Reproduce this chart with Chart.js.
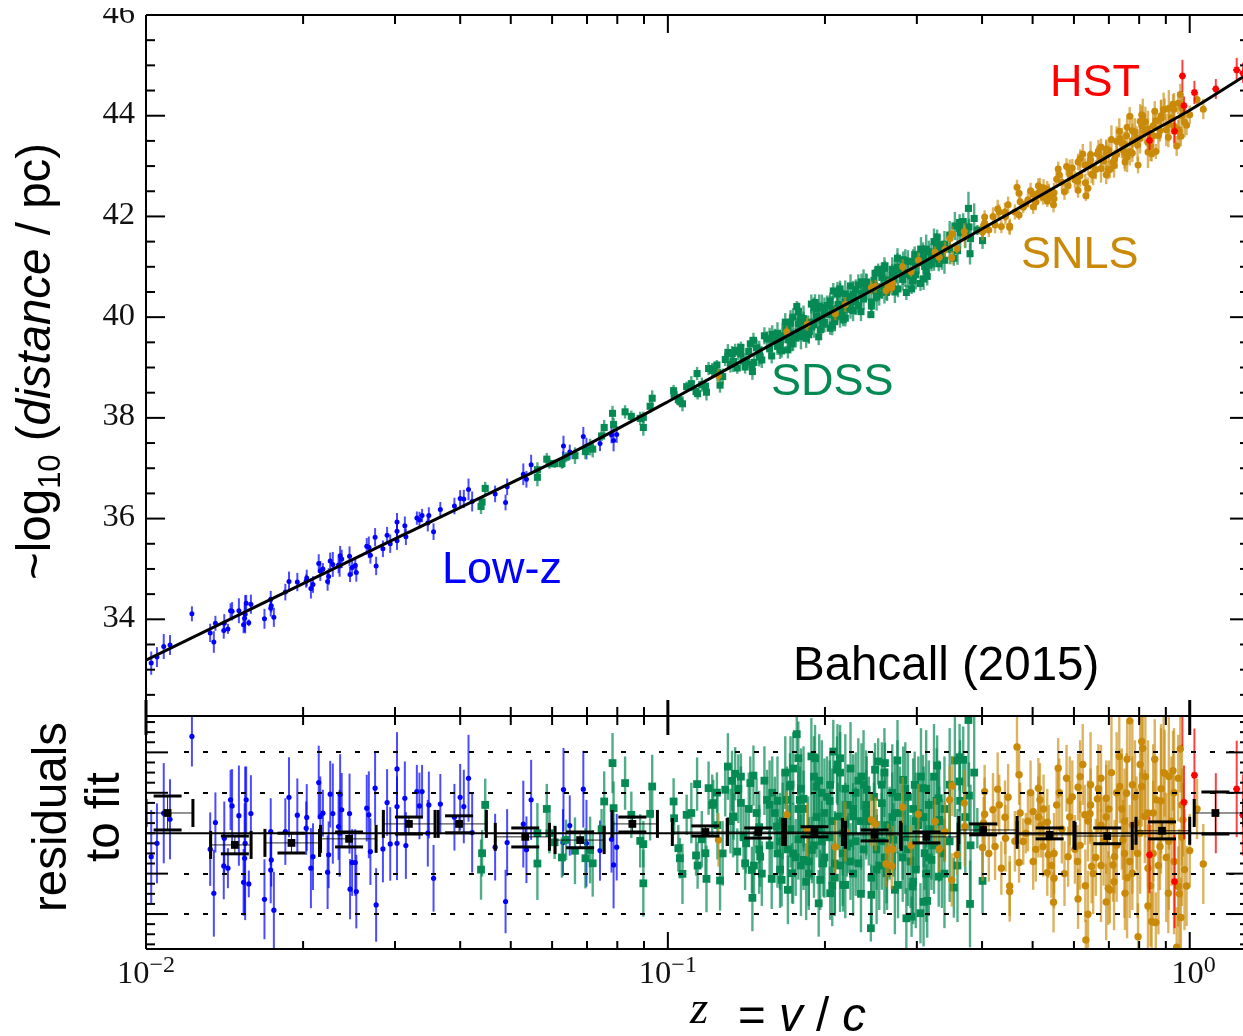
<!DOCTYPE html>
<html>
<head>
<meta charset="utf-8">
<title>Bahcall (2015) Hubble diagram</title>
<script src="https://cdn.jsdelivr.net/npm/chart.js@4"></script>
<style>
  body { margin: 0; background: #fff; overflow: hidden; }
  canvas { position: absolute; left: 0; }
  #top-chart { top: 8px; }
  #bottom-chart { top: 700px; }
</style>
</head>
<body>
<canvas id="top-chart" width="1243" height="709"></canvas>
<canvas id="bottom-chart" width="1243" height="336"></canvas>
<script>
// values. redshift kept as log10(z)
const lowLogZ = [-1.990,-1.979,-1.966,-1.954,-1.912,-1.877,-1.870,-1.867,-1.851,-1.850,-1.843,-1.838,-1.835,-1.822,-1.811,-1.813,-1.803,-1.810,-1.808,-1.799,-1.773,-1.760,-1.761,-1.755,-1.761,-1.733,-1.726,-1.710,-1.692,-1.693,-1.684,-1.680,-1.669,-1.666,-1.661,-1.650,-1.652,-1.647,-1.642,-1.631,-1.628,-1.629,-1.625,-1.610,-1.609,-1.605,-1.599,-1.597,-1.577,-1.573,-1.570,-1.561,-1.559,-1.546,-1.538,-1.532,-1.519,-1.519,-1.519,-1.504,-1.502,-1.481,-1.476,-1.471,-1.460,-1.458,-1.449,-1.436,-1.409,-1.398,-1.391,-1.382,-1.375,-1.331,-1.311,-1.308,-1.277,-1.271,-1.262,-1.200,-1.201,-1.188,-1.162,-1.156,-1.130,-1.108,-1.104,-1.098];
const lowDist = [33.13,33.25,33.46,33.49,34.11,33.73,33.55,33.92,33.78,33.92,33.81,34.17,34.16,34.17,34.02,33.89,33.93,34.10,34.32,34.30,34.01,34.27,34.22,34.04,34.40,34.54,34.75,34.74,34.82,34.76,34.61,34.69,35.11,34.96,35.00,34.85,34.75,35.16,35.09,35.08,35.26,35.06,35.20,35.25,34.89,35.03,35.07,34.93,35.45,35.43,35.27,35.63,35.06,35.40,35.67,35.50,35.93,35.75,35.56,35.86,35.64,36.01,35.97,36.06,35.91,36.06,35.74,36.18,36.25,36.40,36.39,36.58,36.34,36.49,36.32,36.63,36.88,36.78,37.07,37.44,37.17,37.32,37.63,37.39,37.49,37.66,37.55,37.67];
const lowRes = [-.116,-.050,.099,.069,.479,-.079,-.297,.053,-.162,-.025,-.173,.165,.135,.087,-.124,-.243,-.251,-.050,.165,.097,-.327,-.132,-.182,-.381,.008,.008,.178,.089,.078,.025,-.173,-.116,.251,.083,.099,-.107,-.193,.193,.097,.033,.193,0,.116,.097,-.277,-.145,-.145,-.289,.124,.091,-.091,.223,-.355,-.078,.152,-.053,.318,.132,-.050,.173,-.061,.206,.135,.206,0,.140,-.223,.144,.079,.178,.132,.272,.003,-.069,-.338,-.046,.045,-.082,.165,.216,-.046,.038,.218,-.050,-.086,-.030,-.157,-.069];
const lowErr = [.231,.198,.248,.198,.149,.182,.215,.149,.165,.182,.099,.149,.182,.248,.272,.165,.066,.380,.165,.190,.198,.132,.165,.190,.165,.165,.198,.182,.165,.132,.198,.165,.182,.198,.116,.165,.182,.165,.248,.165,.198,.215,.182,.198,.149,.165,.165,.182,.165,.215,.165,.182,.182,.165,.165,.182,.182,.149,.182,.182,.165,.132,.165,.132,.165,.165,.165,.149,.165,.165,.182,.215,.198,.165,.157,.165,.215,.165,.198,.206,.165,.149,.190,.215,.149,.165,.215,.165];

const sdssLogZ = [-1.350,-1.356,-1.358,-1.250,-1.250,-1.232,-1.227,-1.217,-1.203,-1.195,-1.178,-1.158,-1.149,-1.144,-1.127,-1.122,-1.106,-1.104,-1.082,-1.070,-1.053,-1.047,-1.047,-1.034,-1.030,-.989,-.988,-.980,-.977,-.972,-.964,-.944,-.946,-.943,-.928,-.926,-.922,-.913,-.906,-.900,-.890,-.885,-.877,-.871,-.860,-.874,-.867,-.852,-.839,-.838,-.842,-.836,-.823,-.810,-.801,-.791,-.782,-.772,-.766,-.762,-.753,-.750,-.747,-.740,-.731,-.724,-.718,-.715,-.711,-.708,-.702,-.689,-.689,-.683,-.676,-.670,-.660,-.674,-.657,-.664,-.654,-.645,-.635,-.629,-.619,-.611,-.610,-.603,-.597,-.584,-.590,-.581,-.568,-.559,-.549,-.543,-.533,-.531,-.527,-.516,-.511,-.503,-.508,-.495,-.484,-.481,-.481,-.480,-.441,-.434,-.441,-.423,-.452,-.421,-.424,-.397,-.407,-.86,-.85,-.83,-.82,-.80,-.79,-.78,-.77,-.76,-.75,-.74,-.73,-.72,-.71,-.70,-.69,-.68,-.67,-.66,-.65,-.64,-.63,-.62,-.60,-.59,-.58,-.57,-.56,-.55,-.54,-.53,-.52,-.51,-.50,-.49,-.47,
  -.955,-.935,-.915,-.905,-.895,-.88,-.865,-.855,-.845,-.835,-.825,-.815,-.805,-.795,-.785,-.775,-.765,-.755,-.745,-.735,-.725,-.715,-.705,-.695,-.685,-.675,-.665,-.655,-.645,-.635,-.625,-.615,-.605,-.595,-.585,-.575,-.565,-.555,-.545,-.535,-.525,-.515,-.505,-.495,-.485,-.475,-.46,-.445,-.43,-.413,-.79,-.77,-.75,-.73,-.71,-.69,-.67,-.65,-.63,-.61,-.59,-.57,-.55,-.53,-.51,-.49,-.47,-.45,-.42,
  -.78,-.76,-.74,-.72,-.70,-.68,-.66,-.64,-.62,-.60,-.58,-.56,-.54,-.52,-.50,-.48,-.46,-.44,-.875,-.825,-.805,-.785,-.765,-.745,-.725,-.705,-.685,-.665,-.645,-.625,-.605,-.585,-.565,-.545,-.525,-.505];
const sdssDist = [36.60,36.33,36.24,36.97,36.82,37.18,37.09,37.09,37.09,37.22,37.25,37.33,37.42,37.38,37.64,37.81,38.09,37.87,38.12,38.03,37.99,38.01,37.81,38.23,38.39,38.54,38.46,38.36,38.33,38.28,38.62,38.88,38.52,38.48,38.63,38.51,38.98,38.96,39.05,38.65,39.16,39.30,39.28,39.34,39.40,39.12,38.99,39.01,39.06,38.92,39.47,39.54,39.21,39.57,39.23,39.54,39.33,39.79,39.88,39.47,40.21,40.11,39.92,39.67,39.85,39.81,40.29,40.17,39.61,39.75,39.86,39.78,40.32,40.52,40.46,40.56,39.98,40.25,40.19,39.95,40.23,40.41,40.23,40.70,40.69,40.05,40.22,40.87,40.95,41.02,40.79,40.49,40.74,40.56,41.14,40.49,40.56,40.72,41.24,40.67,41.32,40.81,41.01,41.06,41.59,41.44,41.06,41.34,41.88,41.90,41.76,41.79,41.17,41.26,42.16,41.52,41.73,39.27,39.12,39.39,39.15,39.66,39.42,39.63,39.35,40.00,39.71,39.92,39.65,40.19,39.98,39.90,40.23,39.91,40.48,40.29,40.16,40.55,40.11,40.56,40.50,40.88,40.52,40.83,41.17,40.75,41.11,40.74,41.08,40.76,41.30,41.16,41.45,
  38.68,38.66,38.94,38.90,38.82,39.06,39.31,39.13,39.32,39.10,39.35,39.63,39.37,39.59,39.36,39.90,39.68,39.59,39.99,39.58,40.26,40.02,39.95,40.23,39.84,40.50,40.22,40.41,40.13,40.64,40.36,40.55,40.73,40.45,40.97,40.73,40.50,40.94,41.12,40.82,41.08,41.35,40.93,41.21,41.41,41.21,41.63,41.32,41.65,41.96,39.68,39.55,39.86,39.71,40.22,40.05,40.02,40.62,40.47,40.30,40.60,40.95,40.89,41.10,41.18,41.50,41.13,41.81,41.56,
  39.62,39.58,39.97,39.85,40.12,39.98,40.46,40.31,40.60,40.40,40.74,40.99,40.85,41.14,41.04,41.33,41.35,41.67,39.11,39.24,39.57,39.50,39.90,39.61,39.90,40.19,40.16,40.12,40.45,40.68,40.53,40.55,40.88,40.88,40.84,41.35];
const sdssRes = [.140,-.099,-.180,0,-.150,.120,0,-.045,-.120,-.033,-.087,-.124,-.083,-.149,.020,.157,.347,.124,.248,.091,-.038,-.054,-.248,.096,.231,.157,.074,-.074,-.124,-.201,.091,.243,-.110,-.160,-.099,-.226,.223,.149,.201,-.234,.215,.330,.259,.294,.280,.083,-.091,-.149,-.182,-.320,.248,.285,-.116,.165,-.226,.033,-.231,.165,.231,-.198,.490,.371,.165,-.132,0,-.083,.371,.231,-.347,-.231,-.149,-.297,.239,.404,.314,.371,-.256,.083,-.066,-.256,-.050,.083,-.149,.280,.215,-.470,-.305,.314,.355,.347,.149,-.198,-.033,-.256,.264,-.421,-.413,-.264,.239,-.396,.223,-.335,-.099,-.132,.335,.173,-.215,.066,.376,.363,.256,.186,-.269,-.350,.560,-.236,.025,.15,-.05,.10,-.20,.20,-.10,.06,-.28,.32,-.03,.12,-.20,.28,.02,-.12,.16,-.22,.30,.05,-.14,.20,-.30,.10,-.08,.24,-.18,.08,.36,-.12,.18,-.24,.04,-.34,.14,-.06,.12,
  .10,-.03,.14,.04,-.10,.06,.22,-.02,.12,-.16,.03,.26,-.06,.10,-.18,.30,.02,-.12,.22,-.24,.38,.08,-.04,.18,-.26,.34,0,.14,-.20,.26,-.08,.06,.18,-.16,.30,0,-.28,.10,.22,-.14,.06,.28,-.20,.02,.16,-.10,.24,-.16,.08,.30,.16,-.08,.12,-.14,.26,-.02,-.16,.32,.06,-.22,-.04,.20,.02,.12,.08,.28,-.20,.36,-.06,
  .05,-.10,.17,-.06,.10,-.15,.22,-.04,.14,-.18,.04,.18,-.08,.10,-.12,.06,-.04,.16,.08,-.08,.14,-.04,.24,-.16,.02,.20,.06,-.10,.12,.24,-.02,-.12,.10,-.02,-.18,.22];
const sdssErr = [.130,.115,.149,.149,.180,.124,.100,.083,.100,.100,.165,.149,.165,.165,.100,.149,.149,.132,.132,.115,.132,.115,.165,.132,.157,.115,.083,.115,.100,.149,.100,.132,.100,.115,.115,.165,.132,.115,.100,.149,.132,.165,.149,.132,.115,.115,.115,.132,.115,.165,.132,.149,.149,.149,.149,.149,.132,.165,.165,.149,.110,.182,.165,.149,.182,.165,.165,.165,.165,.149,.165,.132,.165,.157,.165,.165,.165,.165,.149,.132,.149,.165,.149,.165,.165,.066,.149,.132,.115,.100,.165,.149,.182,.165,.165,.149,.100,.149,.165,.149,.165,.182,.182,.149,.149,.149,.149,.165,.165,.165,.149,.165,.149,.215,.330,.165,.100,.18,.15,.17,.16,.18,.17,.19,.17,.18,.20,.19,.18,.20,.19,.20,.20,.18,.20,.20,.19,.20,.19,.21,.20,.21,.20,.22,.20,.22,.22,.21,.23,.22,.22,.24,.26,
  .15,.14,.15,.17,.16,.16,.17,.16,.18,.17,.18,.17,.18,.18,.19,.18,.19,.19,.20,.19,.19,.20,.20,.20,.20,.20,.21,.20,.21,.21,.21,.22,.22,.22,.22,.23,.22,.23,.23,.23,.24,.24,.24,.25,.26,.27,.28,.28,.28,.30,.22,.22,.23,.22,.23,.23,.23,.23,.24,.23,.24,.24,.25,.25,.25,.26,.27,.28,.30,
  .26,.25,.26,.26,.27,.26,.27,.27,.27,.27,.28,.28,.28,.28,.29,.30,.30,.30,.20,.22,.22,.24,.24,.25,.25,.26,.26,.26,.27,.27,.27,.28,.28,.28,.29,.29];

const snlsLogZ = [-.903,-.772,-.733,-.679,-.660,-.610,-.602,-.578,-.569,-.582,-.571,-.550,-.520,-.534,-.488,-.480,-.469,-.460,-.455,-.456,-.446,-.432,-.431,-.393,-.393,-.397,-.368,-.377,-.373,-.361,-.353,-.354,-.348,-.345,-.345,-.331,-.327,-.327,-.319,-.314,-.300,-.290,-.287,-.281,-.273,-.271,-.273,-.260,-.261,-.252,-.236,-.233,-.214,-.214,-.199,-.195,-.201,-.191,-.188,-.177,-.170,-.160,-.156,-.153,-.134,-.144,-.147,-.124,-.120,-.115,-.121,-.128,-.110,-.099,-.092,-.102,-.092,-.086,-.073,-.065,-.067,-.080,-.064,-.057,-.048,-.041,-.032,-.025,-.018,-.017,-.022,-.022,-.006,0,.014,.026,-.013,-.31,-.30,-.28,-.27,-.25,-.24,-.23,-.22,-.21,-.20,-.19,-.18,-.17,-.16,-.15,-.14,-.13,-.12,-.11,-.10,-.09,-.08,-.07,-.06,-.05,-.04,-.03,-.02,
  -.395,-.385,-.365,-.335,-.325,-.305,-.295,-.285,-.265,-.255,-.245,-.225,-.215,-.205,-.195,-.185,-.175,-.165,-.155,-.145,-.135,-.125,-.115,-.105,-.095,-.085,-.075,-.055,-.045,-.035,-.015,-.01,
  -.29,-.26,-.23,-.21,-.19,-.17,-.16,-.14,-.125,-.11,-.095,-.08,-.07,-.055,-.04,-.03,-.015];
const snlsDist = [38.84,39.71,39.86,40.07,40.25,40.59,40.61,40.63,40.68,40.53,40.59,41.00,41.13,40.90,41.29,41.19,41.35,41.56,41.65,41.18,41.36,41.70,41.59,41.99,41.87,41.69,42.15,42.00,41.83,41.80,42.00,42.09,42.23,41.81,41.78,42.58,42.46,42.03,42.18,42.25,42.44,42.61,42.58,42.38,42.54,42.40,42.30,42.35,42.23,42.94,42.99,42.61,42.52,43.08,42.41,42.56,43.02,43.08,42.84,43.24,43.38,43.34,42.92,42.93,43.55,43.14,43.08,43.08,43.77,43.99,43.60,43.32,43.26,43.02,44.02,43.56,43.80,43.68,43.24,43.29,44.09,43.47,43.90,43.70,44.13,43.57,44.23,43.40,44.42,43.59,44.25,43.72,43.81,44.02,44.32,44.13,44.10,42.33,42.19,42.57,42.49,42.83,42.49,42.83,42.73,43.15,42.67,43.13,42.93,43.15,42.83,43.53,43.23,43.46,43.18,43.70,43.42,44.00,43.28,43.80,43.60,44.12,43.83,44.13,43.69,
  41.82,41.73,42.09,42.09,42.29,42.51,42.28,42.46,42.38,42.74,42.68,42.96,42.70,43.24,43.02,42.82,43.30,43.10,43.32,43.01,43.69,43.43,43.29,43.67,43.55,43.88,43.40,44.00,43.72,43.96,44.16,43.87,
  42.47,42.47,42.91,42.81,43.23,42.95,43.25,43.49,43.27,43.50,43.89,43.74,43.60,43.95,44.15,43.79,44.00];
const snlsRes = [-.033,.091,.017,-.068,.008,.066,.045,-.083,-.079,-.152,-.162,.129,.094,-.061,.058,-.078,.008,.165,.234,-.231,-.107,.149,.033,.206,.094,-.071,.218,.116,-.066,-.173,-.025,.079,.178,-.261,-.289,.427,.289,-.145,-.041,0,.107,.223,.165,-.066,.054,-.107,-.195,-.223,-.342,.322,.272,-.116,-.325,.228,-.528,-.401,.091,.096,-.165,.170,.272,.173,-.272,-.281,.231,-.116,-.157,-.297,.366,.556,.198,-.033,-.198,-.512,.454,.050,.231,.083,-.437,-.442,.366,-.173,.165,-.066,.297,-.297,.309,-.564,.417,-.417,.272,-.264,-.261,-.086,.120,-.152,.066,.06,-.14,.12,-.02,.20,-.20,.08,-.08,.28,-.26,.14,-.12,.04,-.34,.30,-.06,.12,-.22,.24,-.10,.42,-.36,.10,-.16,.30,-.04,.20,-.30,
  .05,-.10,.14,-.04,.10,.20,-.08,.04,-.16,.14,.02,.18,-.14,.34,.06,-.20,.22,-.04,.12,-.24,.38,.06,-.14,.18,0,.28,-.26,.22,-.12,.06,.14,-.18,
  .08,-.10,.16,-.06,.24,-.16,.08,.20,-.10,.04,.34,.10,-.10,.16,.28,-.14,-.02];
const snlsErr = [.132,.115,.132,.132,.149,.132,.132,.132,.115,.115,.115,.149,.149,.100,.115,.115,.149,.165,.149,.132,.100,.165,.198,.132,.182,.165,.182,.182,.165,.132,.165,.182,.165,.149,.149,.149,.149,.100,.115,.100,.100,.149,.182,.149,.165,.115,.115,.149,.149,.149,.165,.149,.149,.165,.100,.215,.149,.149,.182,.165,.165,.165,.182,.165,.182,.182,.182,.182,.182,.182,.198,.198,.182,.165,.182,.231,.198,.231,.149,.149,.198,.215,.198,.215,.215,.198,.198,.198,.215,.198,.215,.198,.198,.182,.149,.198,.182,.15,.14,.17,.16,.17,.16,.18,.17,.18,.18,.18,.19,.19,.19,.28,.28,.30,.30,.32,.32,.34,.32,.34,.34,.34,.34,.32,.32,
  .13,.14,.15,.15,.15,.16,.16,.16,.16,.17,.17,.18,.18,.20,.20,.20,.22,.22,.24,.24,.26,.26,.28,.28,.30,.30,.30,.32,.32,.32,.30,.30,
  .20,.20,.22,.22,.26,.28,.28,.30,.32,.34,.34,.36,.36,.36,.36,.36,.34];

const hstLogZ = [-.077,-.029,-.011,.009,.050,.090,.102,-.014];
const hstDist = [43.51,43.69,44.20,44.46,44.53,44.91,44.85,44.79];
const hstRes = [-.107,-.239,.153,.287,.099,.219,.090,.750];
const hstErr = [.190,.231,.182,.231,.198,.239,.200,.320];

// best fit line in the upper panel
const fitZ = [.01,.0316,.0631,.1,.158,.251,.316,.398,.501,.631,.794,1,1.265];
const fitDist = [33.19,35.71,37.22,38.32,39.46,40.58,41.15,41.74,42.33,42.93,43.53,44.11,44.77];

// binned residuals
const binZ = [.0110,.0148,.0190,.0245,.0319,.0398,.0533,.0679,.0855,.118,.149,.191,.249,.313,.402,.539,.695,.885,1.12];
const binZLo = [.01,.0133,.0169,.0216,.0285,.0363,.0467,.0608,.0782,.102,.130,.168,.219,.280,.361,.467,.603,.789,1.02];
const binZHi = [.0123,.0159,.0215,.0276,.0358,.0449,.0593,.0755,.0955,.130,.166,.216,.279,.360,.467,.600,.776,1.0,1.27];
const binRes = [.100,-.058,-.048,-.028,.046,.046,-.018,-.034,.046,.006,.006,.006,-.008,-.018,.016,-.008,-.014,.012,.100];
const binResLo = [.016,-.102,-.098,-.068,-.004,.002,-.068,-.072,.006,-.014,-.024,-.018,-.038,-.048,-.008,-.028,-.052,-.028,-.004];
const binResHi = [.184,-.014,0,.006,.080,.086,.026,.006,.080,.036,.026,.032,.016,.006,.046,.026,.026,.056,.204];

// axis ticks
const xTicks = [.01,.02,.03,.04,.05,.06,.07,.08,.09,.1,.2,.3,.4,.5,.6,.7,.8,.9,1];
const xDecades = [.01,.1,1];
const xDecadeLabels = [['10','\u22122'],['10','\u22121'],['10','0']];
const distTicks = [32.5,33,33.5,34,34.5,35,35.5,36,36.5,37,37.5,38,38.5,39,39.5,40,40.5,41,41.5,42,42.5,43,43.5,44,44.5,45,45.5,46];
const distLabelled = [34,36,38,40,42,44,46];
const resTicks = [-.55,-.5,-.45,-.4,-.35,-.3,-.25,-.2,-.15,-.1,-.05,0,.05,.1,.15,.2,.25,.3,.35,.4,.45,.5,.55];
const resDashed = [-.4,-.2,.2,.4];

const BLUE = '#0000ff', GREEN = '#068a54', ORANGE = '#c98a0a', RED = '#ff0000';
const SERIF = '"Liberation Serif"', SANS = '"Liberation Sans"';

function points(xs, ys) {
  return xs.map((l, i) => ({ x: Math.pow(10, l), y: ys[i] }));
}

function drawSpans(ctx, x, y, angle, spans) {
  ctx.save();
  ctx.translate(x, y);
  ctx.rotate(angle);
  ctx.textAlign = 'left';
  ctx.textBaseline = 'alphabetic';
  let cx = 0;
  spans.forEach(s => {
    ctx.font = s.font;
    ctx.fillText(s.text, cx, s.dy || 0);
    cx += ctx.measureText(s.text).width;
  });
  ctx.restore();
}

function tickLine(ctx, x1, y1, x2, y2, w) {
  ctx.lineWidth = w;
  ctx.beginPath();
  ctx.moveTo(x1, y1);
  ctx.lineTo(x2, y2);
  ctx.stroke();
}

// vertical error bars go under the markers of their own dataset
const errorBars = {
  id: 'errorBars',
  beforeDatasetDraw(chart, args) {
    const ds = chart.data.datasets[args.index];
    if (!ds.errs) return;
    const { ctx, chartArea: a, scales: { x, y } } = chart;
    ctx.save();
    ctx.beginPath();
    ctx.rect(a.left, a.top, a.right - a.left, a.bottom - a.top);
    ctx.clip();
    ctx.strokeStyle = ds.errColor;
    ds.data.forEach((p, i) => {
      const px = x.getPixelForValue(p.x);
      tickLine(ctx, px, y.getPixelForValue(p.y - ds.errs[i]), px, y.getPixelForValue(p.y + ds.errs[i]), ds.errWidth);
    });
    ctx.restore();
  }
};

const topFrame = {
  id: 'topFrame',
  afterDatasetsDraw(chart) {
    const { ctx, chartArea: a, scales: { x, y } } = chart;
    ctx.save();
    ctx.strokeStyle = '#000';
    ctx.fillStyle = '#111';
    tickLine(ctx, a.left, a.top, a.right, a.top, 2);
    tickLine(ctx, a.left, a.top, a.left, a.bottom, 2);
    tickLine(ctx, a.left, a.bottom, a.right, a.bottom, 2);
    x.ticks.forEach(t => {
      const px = x.getPixelForValue(t.value);
      const major = xDecades.includes(t.value);
      tickLine(ctx, px, a.top, px, a.top + (major ? 18 : 9), 2);
      tickLine(ctx, px, a.bottom, px, a.bottom - (major ? 16 : 9), major ? 3 : 2);
    });
    ctx.font = '32.5px ' + SERIF;
    ctx.textAlign = 'right';
    ctx.textBaseline = 'alphabetic';
    y.ticks.forEach(t => {
      const py = y.getPixelForValue(t.value);
      const major = distLabelled.includes(t.value);
      tickLine(ctx, a.left, py, a.left + (major ? 19 : 9), py, 2);
      tickLine(ctx, a.right, py, a.right - (major ? 13 : 3), py, 2);
      if (major) ctx.fillText(String(t.value), 135, py + 7.5);
    });
    ctx.fillStyle = '#000';
    const sans = '47.5px ' + SANS;
    drawSpans(ctx, 50, 572, -Math.PI / 2, [
      { text: '~log', font: sans },
      { text: '10', font: '31px ' + SANS, dy: 10 },
      { text: ' (', font: sans },
      { text: 'distance', font: 'italic ' + sans },
      { text: ' / pc)', font: sans }
    ]);
    ctx.textAlign = 'left';
    ctx.font = '45px ' + SANS;
    ctx.fillStyle = BLUE;   ctx.fillText('Low-z', 442, 575);
    ctx.fillStyle = GREEN;  ctx.fillText('SDSS', 771, 387);
    ctx.fillStyle = ORANGE; ctx.fillText('SNLS', 1021, 260);
    ctx.fillStyle = RED;    ctx.fillText('HST', 1050, 88);
    ctx.fillStyle = '#000';
    ctx.font = '47.5px ' + SANS;
    ctx.fillText('Bahcall (2015)', 793, 672);
    ctx.restore();
  }
};

const bottomFrame = {
  id: 'bottomFrame',
  afterDatasetsDraw(chart) {
    const { ctx, chartArea: a, scales: { x, y } } = chart;
    ctx.save();
    ctx.strokeStyle = '#000';
    ctx.fillStyle = '#111';
    ctx.beginPath();
    ctx.rect(a.left, a.top, a.right - a.left, a.bottom - a.top);
    ctx.clip();
    // binned points with their x and y bars
    binZ.forEach((z, i) => {
      const px = x.getPixelForValue(z), py = y.getPixelForValue(binRes[i]);
      const xl = x.getPixelForValue(binZLo[i]), xh = x.getPixelForValue(binZHi[i]);
      const yl = y.getPixelForValue(binResLo[i]), yh = y.getPixelForValue(binResHi[i]);
      ctx.globalAlpha = 0.85;
      tickLine(ctx, xl, py, xh, py, 1);
      tickLine(ctx, px, yl, px, yh, 1);
      ctx.globalAlpha = 1;
      tickLine(ctx, xl, py - 14, xl, py + 14, 3);
      tickLine(ctx, xh, py - 14, xh, py + 14, 3);
      tickLine(ctx, px - 14, yl, px + 14, yl, 3);
      tickLine(ctx, px - 14, yh, px + 14, yh, 3);
    });
    tickLine(ctx, a.left, y.getPixelForValue(0), a.right, y.getPixelForValue(0), 2);
    ctx.setLineDash([5, 14]);
    resDashed.forEach(v => {
      const py = Math.round(y.getPixelForValue(v));
      tickLine(ctx, a.left + 38, py, a.right, py, 2);
    });
    ctx.setLineDash([]);
    ctx.restore();

    ctx.save();
    ctx.strokeStyle = '#000';
    ctx.fillStyle = '#111';
    tickLine(ctx, a.left, a.top, a.right, a.top, 2);
    tickLine(ctx, a.left, a.top, a.left, a.bottom, 2);
    tickLine(ctx, a.left, a.bottom, a.right, a.bottom, 2);
    x.ticks.forEach(t => {
      const px = x.getPixelForValue(t.value);
      const major = xDecades.includes(t.value);
      tickLine(ctx, px, a.top, px, a.top + (major ? 19 : 9), major ? 3 : 2);
      tickLine(ctx, px, a.bottom, px, a.bottom - (major ? 17 : 8), 2);
    });
    y.ticks.forEach(t => {
      const py = y.getPixelForValue(t.value);
      const major = resDashed.includes(t.value);
      tickLine(ctx, a.left, py, a.left + (major ? 22 : 9), py, 2);
      tickLine(ctx, a.right, py, a.right - (major ? 17 : 3), py, 2);
    });
    xDecades.forEach((z, i) => {
      const px = x.getPixelForValue(z);
      const off = i < 2 ? 29 : 18.5;
      drawSpans(ctx, px - off, a.bottom + 34, 0, [
        { text: xDecadeLabels[i][0], font: '32.5px ' + SERIF },
        { text: xDecadeLabels[i][1], font: '24px ' + SERIF, dy: -11 }
      ]);
    });
    ctx.fillStyle = '#000';
    const sans = '47.5px ' + SANS;
    drawSpans(ctx, 66, 212, -Math.PI / 2, [{ text: 'residuals', font: sans }]);
    drawSpans(ctx, 119, 162, -Math.PI / 2, [{ text: 'to fit', font: sans }]);
    drawSpans(ctx, 690, 323, 0, [{ text: 'z', font: 'italic 47px ' + SERIF }]);
    drawSpans(ctx, 738, 331, 0, [
      { text: '= ', font: sans },
      { text: 'v', font: 'italic ' + sans },
      { text: ' / ', font: sans },
      { text: 'c', font: 'italic ' + sans }
    ]);
    ctx.restore();
  }
};

function xAxis() {
  return {
    type: 'logarithmic',
    min: .01,
    max: 1.265,
    grid: { display: false, drawTicks: false },
    border: { display: false },
    ticks: { display: false, autoSkip: false },
    afterBuildTicks(s) { s.ticks = xTicks.map(v => ({ value: v })); }
  };
}

function yAxis(min, max, ticks) {
  return {
    type: 'linear',
    min: min,
    max: max,
    grid: { display: false, drawTicks: false },
    border: { display: false },
    ticks: { display: false, autoSkip: false },
    afterBuildTicks(s) { s.ticks = ticks.map(v => ({ value: v })); }
  };
}

function series(data, errs, color, errColor, errWidth, style, radius, order) {
  return {
    data: data,
    errs: errs,
    errColor: errColor,
    errWidth: errWidth,
    backgroundColor: color,
    borderColor: color,
    borderWidth: style === 'star' ? 2 : 0,
    pointStyle: style,
    pointRadius: radius,
    showLine: false,
    order: order
  };
}

const baseOptions = {
  responsive: false,
  animation: false,
  devicePixelRatio: 1,
  events: [],
  plugins: { legend: { display: false }, tooltip: { enabled: false } }
};

new Chart(document.getElementById('top-chart').getContext('2d'), {
  type: 'scatter',
  data: {
    datasets: [
      { data: fitZ.map((z, i) => ({ x: z, y: fitDist[i] })), showLine: true, borderColor: '#000', borderWidth: 3, pointRadius: 0, tension: .3, order: 0 },
      series(points(hstLogZ, hstDist), hstErr, RED, 'rgba(255,0,0,.75)', 2, 'star', 3.5, 1),
      series(points(snlsLogZ, snlsDist), snlsErr, ORANGE, 'rgba(201,138,10,.65)', 2.4, 'circle', 3.5, 2),
      series(points(sdssLogZ, sdssDist), sdssErr, GREEN, 'rgba(6,138,84,.7)', 2.4, 'rect', 5, 3),
      series(points(lowLogZ, lowDist), lowErr, BLUE, 'rgba(0,0,255,.7)', 2, 'circle', 2.5, 4)
    ]
  },
  options: Object.assign({}, baseOptions, {
    layout: { autoPadding: false, padding: { left: 146, right: 0, top: 7, bottom: 1 } },
    scales: { x: xAxis(), y: yAxis(32.08, 46, distTicks) }
  }),
  plugins: [errorBars, topFrame]
});

new Chart(document.getElementById('bottom-chart').getContext('2d'), {
  type: 'scatter',
  data: {
    datasets: [
      series(points(hstLogZ, hstRes), hstErr, RED, 'rgba(255,0,0,.75)', 2, 'star', 3.5, 1),
      series(points(snlsLogZ, snlsRes), snlsErr, ORANGE, 'rgba(201,138,10,.65)', 2.4, 'circle', 3.7, 2),
      series(points(sdssLogZ, sdssRes), sdssErr, GREEN, 'rgba(6,138,84,.7)', 2.4, 'rect', 5.5, 3),
      series(points(lowLogZ, lowRes), lowErr, BLUE, 'rgba(0,0,255,.7)', 2, 'circle', 2.6, 4),
      { data: binZ.map((z, i) => ({ x: z, y: binRes[i] })), backgroundColor: '#000', pointStyle: 'rect', pointRadius: 5.5, borderWidth: 0, showLine: false, order: 0 }
    ]
  },
  options: Object.assign({}, baseOptions, {
    layout: { autoPadding: false, padding: { left: 146, right: 0, top: 16, bottom: 87 } },
    scales: { x: xAxis(), y: yAxis(-.573, .58, resTicks) }
  }),
  plugins: [errorBars, bottomFrame]
});
</script>
</body>
</html>
